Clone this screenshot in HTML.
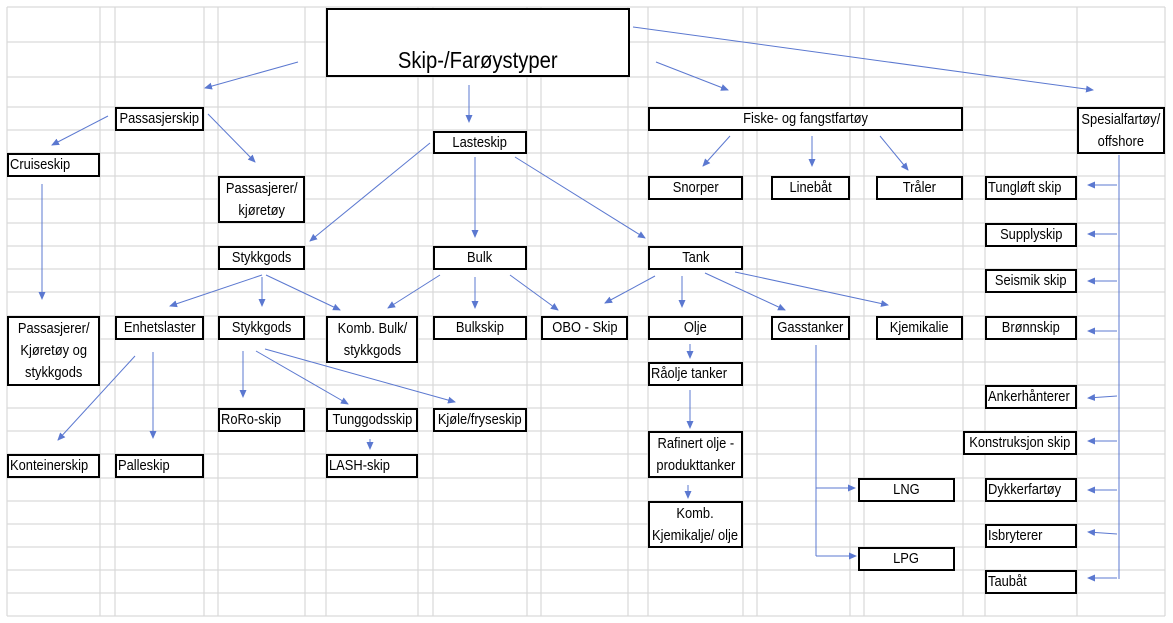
<!DOCTYPE html>
<html><head><meta charset="utf-8"><style>
body{margin:0;background:#fff;}
#c{position:relative;width:1173px;height:623px;overflow:hidden;background:#fff;font-family:"Liberation Sans",Arial,sans-serif;}
.b{position:absolute;box-sizing:border-box;border:2px solid #000;background:#fff;display:flex;align-items:center;justify-content:center;text-align:center;font-size:15px;line-height:22px;color:#000;white-space:nowrap;}
.b span{display:inline-block;transform:scaleX(0.86);}
.l{justify-content:flex-start;}
.l span{transform-origin:left center;margin-left:1px;}
svg{position:absolute;left:0;top:0;}
</style></head><body><div id="c">
<svg width="1173" height="623">
<defs><marker id="a" markerWidth="8" markerHeight="8" refX="7" refY="4" orient="auto" markerUnits="userSpaceOnUse"><path d="M0,0.5 L8,4 L0,7.5z" fill="#5b78d0"/></marker></defs>
<g stroke="#d9d9d9" stroke-width="1.2">
<line x1="7" y1="7" x2="1165" y2="7"/><line x1="7" y1="42" x2="1165" y2="42"/><line x1="7" y1="77" x2="1165" y2="77"/>
<line x1="7" y1="107" x2="1165" y2="107"/><line x1="7" y1="130" x2="1165" y2="130"/><line x1="7" y1="153" x2="1165" y2="153"/><line x1="7" y1="176" x2="1165" y2="176"/><line x1="7" y1="199" x2="1165" y2="199"/><line x1="7" y1="223" x2="1165" y2="223"/><line x1="7" y1="246" x2="1165" y2="246"/><line x1="7" y1="269" x2="1165" y2="269"/><line x1="7" y1="292" x2="1165" y2="292"/><line x1="7" y1="316" x2="1165" y2="316"/><line x1="7" y1="339" x2="1165" y2="339"/><line x1="7" y1="362" x2="1165" y2="362"/><line x1="7" y1="385" x2="1165" y2="385"/><line x1="7" y1="408" x2="1165" y2="408"/><line x1="7" y1="431" x2="1165" y2="431"/><line x1="7" y1="454" x2="1165" y2="454"/><line x1="7" y1="478" x2="1165" y2="478"/><line x1="7" y1="501" x2="1165" y2="501"/><line x1="7" y1="524" x2="1165" y2="524"/><line x1="7" y1="547" x2="1165" y2="547"/><line x1="7" y1="570" x2="1165" y2="570"/><line x1="7" y1="593" x2="1165" y2="593"/><line x1="7" y1="616" x2="1165" y2="616"/>
<line x1="7" y1="7" x2="7" y2="616"/><line x1="100" y1="7" x2="100" y2="616"/><line x1="115" y1="7" x2="115" y2="616"/><line x1="204" y1="7" x2="204" y2="616"/><line x1="218" y1="7" x2="218" y2="616"/><line x1="305" y1="7" x2="305" y2="616"/><line x1="326" y1="7" x2="326" y2="616"/><line x1="418" y1="7" x2="418" y2="616"/><line x1="433" y1="7" x2="433" y2="616"/><line x1="527" y1="7" x2="527" y2="616"/><line x1="541" y1="7" x2="541" y2="616"/><line x1="628" y1="7" x2="628" y2="616"/><line x1="648" y1="7" x2="648" y2="616"/><line x1="743" y1="7" x2="743" y2="616"/><line x1="757" y1="7" x2="757" y2="616"/><line x1="850" y1="7" x2="850" y2="616"/><line x1="864" y1="7" x2="864" y2="616"/><line x1="963" y1="7" x2="963" y2="616"/><line x1="985" y1="7" x2="985" y2="616"/><line x1="1077" y1="7" x2="1077" y2="616"/><line x1="1165" y1="7" x2="1165" y2="616"/>
</g>
<g stroke="#5b78d0" stroke-width="1" fill="none" marker-end="url(#a)">
<line x1="298" y1="62" x2="205" y2="88"/>
<line x1="469" y1="85" x2="469" y2="122"/>
<line x1="656" y1="62" x2="728" y2="90"/>
<line x1="633" y1="27" x2="1093" y2="90"/>
<line x1="108" y1="116" x2="52" y2="145"/>
<line x1="208" y1="114" x2="255" y2="162"/>
<line x1="42" y1="184" x2="42" y2="299"/>
<line x1="430" y1="143" x2="310" y2="241"/>
<line x1="475" y1="157" x2="475" y2="237"/>
<line x1="515" y1="157" x2="645" y2="238"/>
<line x1="730" y1="136" x2="703" y2="166"/>
<line x1="812" y1="136" x2="812" y2="166"/>
<line x1="880" y1="136" x2="908" y2="170"/>
<line x1="1117" y1="185" x2="1088" y2="185"/>
<line x1="1117" y1="234" x2="1088" y2="234"/>
<line x1="1117" y1="281" x2="1088" y2="281"/>
<line x1="1117" y1="331" x2="1088" y2="331"/>
<line x1="1117" y1="396" x2="1088" y2="398"/>
<line x1="1117" y1="441" x2="1088" y2="441"/>
<line x1="1117" y1="490" x2="1088" y2="490"/>
<line x1="1117" y1="534" x2="1088" y2="532"/>
<line x1="1117" y1="578" x2="1088" y2="578"/>
<line x1="262" y1="275" x2="170" y2="306"/>
<line x1="262" y1="277" x2="262" y2="306"/>
<line x1="266" y1="275" x2="340" y2="310"/>
<line x1="440" y1="275" x2="388" y2="308"/>
<line x1="475" y1="277" x2="475" y2="308"/>
<line x1="510" y1="275" x2="558" y2="310"/>
<line x1="655" y1="276" x2="605" y2="303"/>
<line x1="682" y1="276" x2="682" y2="307"/>
<line x1="705" y1="273" x2="785" y2="310"/>
<line x1="735" y1="272" x2="888" y2="305"/>
<line x1="135" y1="356" x2="58" y2="440"/>
<line x1="153" y1="352" x2="153" y2="438"/>
<line x1="243" y1="351" x2="243" y2="397"/>
<line x1="256" y1="351" x2="348" y2="404"/>
<line x1="265" y1="349" x2="455" y2="402"/>
<line x1="370" y1="439" x2="370" y2="449"/>
<line x1="690" y1="344" x2="690" y2="358"/>
<line x1="690" y1="390" x2="690" y2="428"/>
<line x1="688" y1="485" x2="688" y2="498"/>
<line x1="816" y1="488" x2="855" y2="488"/>
<line x1="816" y1="556" x2="856" y2="556"/>
</g>
<g stroke="#5b78d0" stroke-width="1" fill="none">
<line x1="1119" y1="155" x2="1119" y2="579"/>
<line x1="816" y1="345" x2="816" y2="556"/>
</g>
</svg>
<div class="b" style="left:326px;top:8px;width:304px;height:69px;align-items:flex-end;font-size:23px;line-height:28px;padding-bottom:1px"><span style="transform:scaleX(0.88)">Skip-/Farøystyper</span></div>
<div class="b" style="left:115px;top:107px;width:89px;height:24px"><span>Passasjerskip</span></div>
<div class="b l" style="left:7px;top:153px;width:93px;height:24px"><span>Cruiseskip</span></div>
<div class="b" style="left:218px;top:176px;width:87px;height:47px"><span>Passasjerer/<br>kjøretøy</span></div>
<div class="b" style="left:433px;top:131px;width:94px;height:23px"><span>Lasteskip</span></div>
<div class="b" style="left:218px;top:246px;width:87px;height:24px"><span>Stykkgods</span></div>
<div class="b" style="left:433px;top:246px;width:94px;height:24px"><span>Bulk</span></div>
<div class="b" style="left:648px;top:246px;width:95px;height:24px"><span>Tank</span></div>
<div class="b" style="left:648px;top:107px;width:315px;height:24px"><span>Fiske- og fangstfartøy</span></div>
<div class="b" style="left:648px;top:176px;width:95px;height:24px"><span>Snorper</span></div>
<div class="b" style="left:771px;top:176px;width:79px;height:24px"><span>Linebåt</span></div>
<div class="b" style="left:876px;top:176px;width:87px;height:24px"><span>Tråler</span></div>
<div class="b" style="left:1077px;top:107px;width:88px;height:47px"><span>Spesialfartøy/<br>offshore</span></div>
<div class="b l" style="left:985px;top:176px;width:92px;height:24px"><span>Tungløft skip</span></div>
<div class="b" style="left:985px;top:223px;width:92px;height:24px"><span>Supplyskip</span></div>
<div class="b" style="left:985px;top:269px;width:92px;height:24px"><span>Seismik skip</span></div>
<div class="b" style="left:985px;top:316px;width:92px;height:24px"><span>Brønnskip</span></div>
<div class="b l" style="left:985px;top:385px;width:92px;height:24px"><span>Ankerhånterer</span></div>
<div class="b" style="left:963px;top:431px;width:114px;height:24px"><span>Konstruksjon skip</span></div>
<div class="b l" style="left:985px;top:478px;width:92px;height:24px"><span>Dykkerfartøy</span></div>
<div class="b l" style="left:985px;top:524px;width:92px;height:24px"><span>Isbryterer</span></div>
<div class="b l" style="left:985px;top:570px;width:92px;height:24px"><span>Taubåt</span></div>
<div class="b" style="left:7px;top:316px;width:93px;height:70px"><span>Passasjerer/<br>Kjøretøy og<br>stykkgods</span></div>
<div class="b" style="left:115px;top:316px;width:89px;height:24px"><span>Enhetslaster</span></div>
<div class="b" style="left:218px;top:316px;width:87px;height:24px"><span>Stykkgods</span></div>
<div class="b" style="left:326px;top:316px;width:92px;height:47px"><span>Komb. Bulk/<br>stykkgods</span></div>
<div class="b" style="left:433px;top:316px;width:94px;height:24px"><span>Bulkskip</span></div>
<div class="b" style="left:541px;top:316px;width:87px;height:24px"><span>OBO - Skip</span></div>
<div class="b" style="left:648px;top:316px;width:95px;height:24px"><span>Olje</span></div>
<div class="b" style="left:771px;top:316px;width:79px;height:24px"><span>Gasstanker</span></div>
<div class="b" style="left:876px;top:316px;width:87px;height:24px"><span>Kjemikalie</span></div>
<div class="b l" style="left:648px;top:362px;width:95px;height:24px"><span>Råolje tanker</span></div>
<div class="b l" style="left:218px;top:408px;width:87px;height:24px"><span>RoRo-skip</span></div>
<div class="b" style="left:326px;top:408px;width:92px;height:24px"><span>Tunggodsskip</span></div>
<div class="b" style="left:433px;top:408px;width:94px;height:24px"><span>Kjøle/fryseskip</span></div>
<div class="b l" style="left:326px;top:454px;width:92px;height:24px"><span>LASH-skip</span></div>
<div class="b" style="left:648px;top:431px;width:95px;height:47px"><span>Rafinert olje -<br>produkttanker</span></div>
<div class="b l" style="left:7px;top:454px;width:93px;height:24px"><span>Konteinerskip</span></div>
<div class="b l" style="left:115px;top:454px;width:89px;height:24px"><span>Palleskip</span></div>
<div class="b" style="left:648px;top:501px;width:95px;height:47px"><span>Komb.<br>Kjemikalje/ olje</span></div>
<div class="b" style="left:858px;top:478px;width:97px;height:24px"><span>LNG</span></div>
<div class="b" style="left:858px;top:547px;width:97px;height:24px"><span>LPG</span></div>
</div></body></html>
